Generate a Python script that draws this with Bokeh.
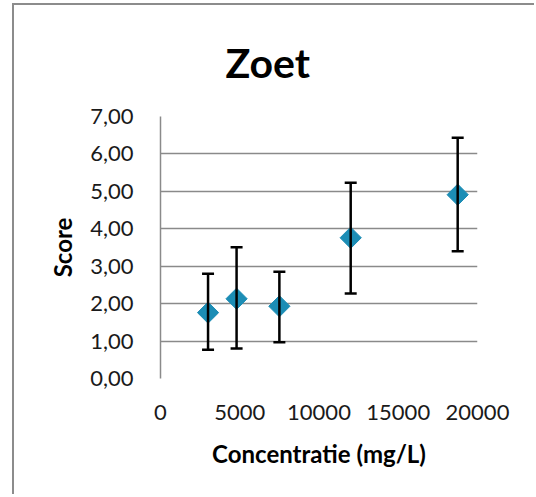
import numpy as np
from bokeh.plotting import figure
from bokeh.models import ColumnDataSource, Whisker, TeeHead, FixedTicker, Range1d
from bokeh.embed import file_html
from bokeh.resources import INLINE

# data
title_text = "Zoet"
concentration = [3000, 4800, 7500, 12000, 18750]
score = [1.76, 2.13, 1.93, 3.76, 4.91]
err_upper = [2.80, 3.51, 2.85, 5.23, 6.43]
err_lower = [0.77, 0.80, 0.97, 2.27, 3.40]
x_ticks = [0, 5000, 10000, 15000, 20000]
y_ticks = [0, 1, 2, 3, 4, 5, 6, 7]
y_tick_labels = ["0,00", "1,00", "2,00", "3,00", "4,00", "5,00", "6,00", "7,00"]

FONT = "Lato"
GRID = "#8a8a8a"

src = ColumnDataSource(dict(x=concentration, y=score, upper=err_upper, lower=err_lower))

p = figure(width=522, height=491, output_backend="svg", toolbar_location=None,
           x_range=Range1d(0, 20000), y_range=Range1d(0, 7),
           min_border_left=146, min_border_right=59, min_border_top=111, min_border_bottom=118,
           title=title_text,
           styles={"margin-left": "12px", "margin-top": "3px",
                   "border-left": "2px solid #8c8c8c", "border-top": "2px solid #8c8c8c"})

p.title.text_font = FONT
p.title.text_font_size = "41px"
p.title.text_font_style = "bold"
p.title.text_color = "black"
p.title.align = "left"
p.title.offset = 65
p.title.vertical_align = "middle"
p.title.standoff = 57

p.outline_line_color = None
p.background_fill_color = "white"
p.border_fill_color = "white"

p.xgrid.grid_line_color = None
p.ygrid.grid_line_color = GRID
p.ygrid.grid_line_width = 1.5
p.ygrid.ticker = FixedTicker(ticks=y_ticks)

p.xaxis.ticker = FixedTicker(ticks=x_ticks)
p.yaxis.ticker = FixedTicker(ticks=y_ticks)
p.yaxis.major_label_overrides = {t: l for t, l in zip(y_ticks, y_tick_labels)}

for ax in (p.xaxis[0], p.yaxis[0]):
    ax.major_tick_line_color = None
    ax.minor_tick_line_color = None
    ax.major_label_text_font = FONT
    ax.major_label_text_font_size = "22px"
    ax.major_label_text_color = "#1a1a1a"
    ax.axis_label_text_font = FONT
    ax.axis_label_text_font_size = "24px"
    ax.axis_label_text_font_style = "bold"
    ax.axis_label_text_color = "black"

p.xaxis.axis_line_color = None
p.yaxis.axis_line_color = GRID
p.yaxis.axis_line_width = 1.5
p.xaxis.major_label_standoff = 20
p.yaxis.major_label_standoff = 21
p.xaxis.axis_label = "Concentratie (mg/L)"
p.yaxis.axis_label = "Score"
p.xaxis.axis_label_standoff = 16
p.yaxis.axis_label_standoff = 10

w = Whisker(source=src, base="x", upper="upper", lower="lower",
            line_color="black", line_width=2.5,
            upper_head=TeeHead(size=12, line_color="black", line_width=2.5),
            lower_head=TeeHead(size=12, line_color="black", line_width=2.5))
w.level = "glyph"
p.add_layout(w)

p.scatter("x", "y", source=src, marker="square", size=15, angle=np.pi / 4,
          fill_color="#1c8db5", line_color="#1c8db5")

open("out.html", "w").write(file_html(p, INLINE))
